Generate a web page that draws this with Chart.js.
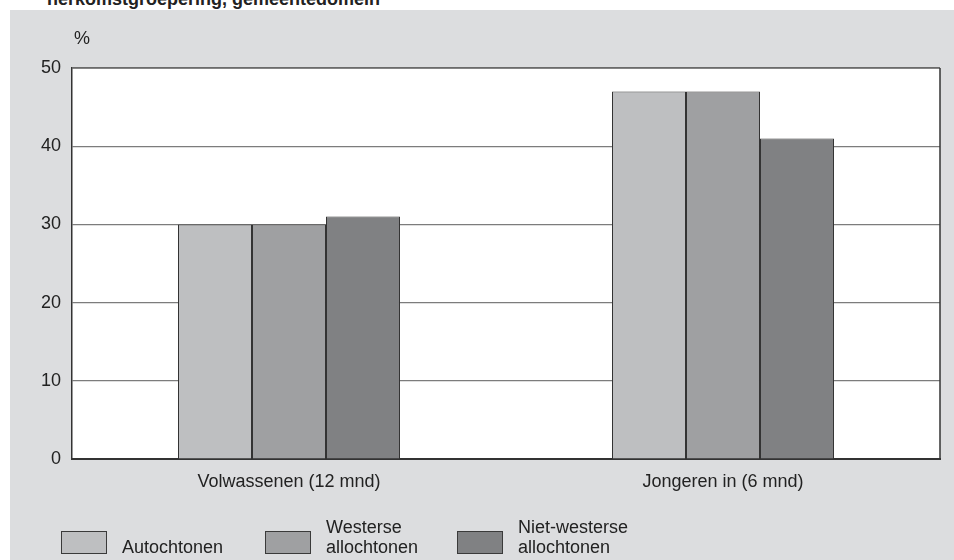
<!DOCTYPE html>
<html>
<head>
<meta charset="utf-8">
<script src="https://cdn.jsdelivr.net/npm/chart.js@4/dist/chart.umd.min.js"></script>
<style>
  body { margin: 0; width: 954px; height: 560px; overflow: hidden; background: #fff; position: relative;
         font-family: "Liberation Sans", Arial, sans-serif; color: #222; }
  #title { position: absolute; left: 47px; top: -10px; font-size: 18px; line-height: 18px; font-weight: bold; white-space: nowrap; }
  #panel { position: absolute; left: 10px; top: 10px; width: 944px; height: 550px; background: #dcdddf; }
  #chart { position: absolute; left: 0; top: 0; }
  .txt { position: absolute; font-size: 18px; line-height: 20px; white-space: nowrap; }
  .box { position: absolute; width: 46px; height: 23px; box-sizing: border-box; border: 1.5px solid #3a3a3a; }
</style>
</head>
<body>
<div id="title">herkomstgroepering, gemeentedomein</div>
<div id="panel">
  <canvas id="chart" width="944" height="550"></canvas>
</div>
<div class="txt" style="left:74px;top:28px;">%</div>
<div id="legend"></div>
<script>
// --- data ---
const categories = ["Volwassenen (12 mnd)", "Jongeren in (6 mnd)"];
const seriesNames = [["Autochtonen"], ["Westerse", "allochtonen"], ["Niet-westerse", "allochtonen"]];
const autochtonen = [30, 47];
const westers = [30, 47];
const nietWesters = [31, 41];
const yTicks = [0, 10, 20, 30, 40, 50];

const colors = ["#bebfc1", "#9fa0a2", "#808183"];
const fontFamily = '"Liberation Sans", Arial, sans-serif';

// frame round the plot (top and right side as well)
const frame = {
  id: "frame",
  afterDraw(chart) {
    const { ctx, chartArea: a } = chart;
    ctx.save();
    ctx.strokeStyle = "#666";
    ctx.lineWidth = 1.5;
    ctx.beginPath();
    ctx.moveTo(a.left, a.top);
    ctx.lineTo(a.right, a.top);
    ctx.stroke();
    ctx.strokeStyle = "#333";
    ctx.beginPath();
    ctx.moveTo(a.right, a.top);
    ctx.lineTo(a.right, a.bottom);
    ctx.stroke();
    ctx.restore();
  },
  beforeDraw(chart) {
    const { ctx, chartArea: a } = chart;
    ctx.save();
    ctx.fillStyle = "#fff";
    ctx.fillRect(a.left, a.top, a.right - a.left, a.bottom - a.top);
    ctx.restore();
  },
};

const ds = [autochtonen, westers, nietWesters].map((d, i) => ({
  label: seriesNames[i].join(" "),
  data: d,
  backgroundColor: colors[i],
  borderColor: "#333",
  borderWidth: 1,
  barPercentage: 1,
  categoryPercentage: 0.5115,
}));

new Chart(document.getElementById("chart"), {
  type: "bar",
  data: { labels: categories, datasets: ds },
  options: {
    responsive: false,
    animation: false,
    layout: { padding: { top: 58, right: 14, left: 0, bottom: 51 } },
    plugins: { legend: { display: false }, tooltip: { enabled: false } },
    scales: {
      x: {
        grid: { display: false },
        border: { color: "#333", width: 2 },
        ticks: { color: "#222", padding: 4, font: { family: fontFamily, size: 18 } },
        afterFit(s) { s.height = 50; },
      },
      y: {
        min: 0,
        max: 50,
        afterBuildTicks(s) { s.ticks = yTicks.map(v => ({ value: v })); },
        grid: { color: "#7c7c7c", lineWidth: 1.2, drawTicks: false },
        border: { color: "#333", width: 1.5 },
        ticks: { color: "#222", padding: 11, font: { family: fontFamily, size: 18 } },
        afterFit(s) { s.width = 62; },
      },
    },
  },
  plugins: [frame],
});

// legend (HTML, page coordinates)
const legendX = [61, 265, 457];
const legend = document.getElementById("legend");
seriesNames.forEach((lines, i) => {
  const b = document.createElement("div");
  b.className = "box";
  b.style.left = legendX[i] + "px";
  b.style.top = "531px";
  b.style.background = colors[i];
  legend.appendChild(b);
  const t = document.createElement("div");
  t.className = "txt";
  t.style.left = (legendX[i] + 61) + "px";
  t.style.top = (537 - (lines.length - 1) * 20) + "px";
  t.innerHTML = lines.join("<br>");
  legend.appendChild(t);
});
</script>
</body>
</html>
